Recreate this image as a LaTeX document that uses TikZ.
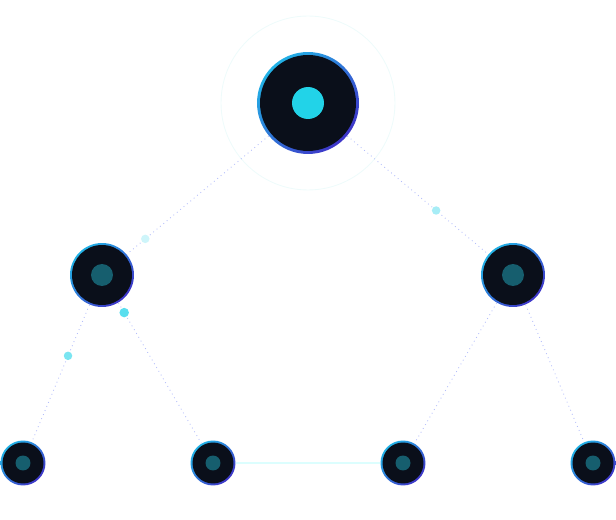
\documentclass[tikz,border=0pt]{standalone}
\usepackage{xcolor}
\usepackage{tikz}
\usetikzlibrary{calc}
\definecolor{nodedark}{RGB}{10,15,26}
\definecolor{rimcyan}{RGB}{34,178,230}
\definecolor{rimindigo}{RGB}{62,52,200}
\definecolor{coredot}{RGB}{34,211,232}
\definecolor{dimdot}{RGB}{22,94,110}
\definecolor{linkblue}{RGB}{180,190,250}
\definecolor{halo}{RGB}{238,251,251}

\begin{document}
\begin{tikzpicture}[x=0.02cm, y=-0.02cm,
        treenode/.style={circle, inner sep=0pt, minimum size=#1,
              top color=rimcyan, bottom color=rimindigo, shading angle=45},
        link/.style={draw=linkblue, dotted, line width=0.5pt},
        pulse/.style={circle, inner sep=0pt, minimum size=0.17cm}]
  \useasboundingbox (0,0) rectangle (616,520);

  % halo round the root
  \draw[halo, line width=0.5pt] (308,103) circle (1.74cm);

  % nodes
  \node[treenode=2.04cm, path picture={
          \fill[nodedark] (path picture bounding box.center) circle (0.96cm);
          \fill[coredot] (path picture bounding box.center) circle (0.32cm);}]
    (root) at (308,103) {};
  \node[treenode=1.28cm, path picture={
          \fill[nodedark] (path picture bounding box.center) circle (0.6cm);
          \fill[dimdot] (path picture bounding box.center) circle (0.22cm);}]
    (lft) at (102,275) {};
  \node[treenode=1.28cm, path picture={
          \fill[nodedark] (path picture bounding box.center) circle (0.6cm);
          \fill[dimdot] (path picture bounding box.center) circle (0.22cm);}]
    (rgt) at (513,275) {};
  \foreach \name/\x in {ll/23, lr/213, rl/403, rr/593}
    \node[treenode=0.9cm, path picture={
            \fill[nodedark] (path picture bounding box.center) circle (0.41cm);
            \fill[dimdot] (path picture bounding box.center) circle (0.15cm);}]
      (\name) at (\x,463) {};

  % links
  \draw[link] (root) -- (lft);
  \draw[link] (root) -- (rgt);
  \draw[link] (lft) -- (ll);
  \draw[link] (lft) -- (lr);
  \draw[link] (rgt) -- (rl);
  \draw[link] (rgt) -- (rr);
  \draw[halo!70!cyan!40, line width=0.6pt] (lr) -- (rl);

  % pulses along the links
  \node[pulse, fill=coredot!22] (p1) at ($(root)!0.79!(lft)$) {};
  \node[pulse, fill=coredot!40] (p2) at ($(root)!0.625!(rgt)$) {};
  \node[pulse, fill=coredot!75, minimum size=0.19cm] (p3) at ($(lft)!0.2!(lr)$) {};
  \node[pulse, fill=coredot!60] (p4) at ($(lft)!0.43!(ll)$) {};
\end{tikzpicture}
\end{document}
